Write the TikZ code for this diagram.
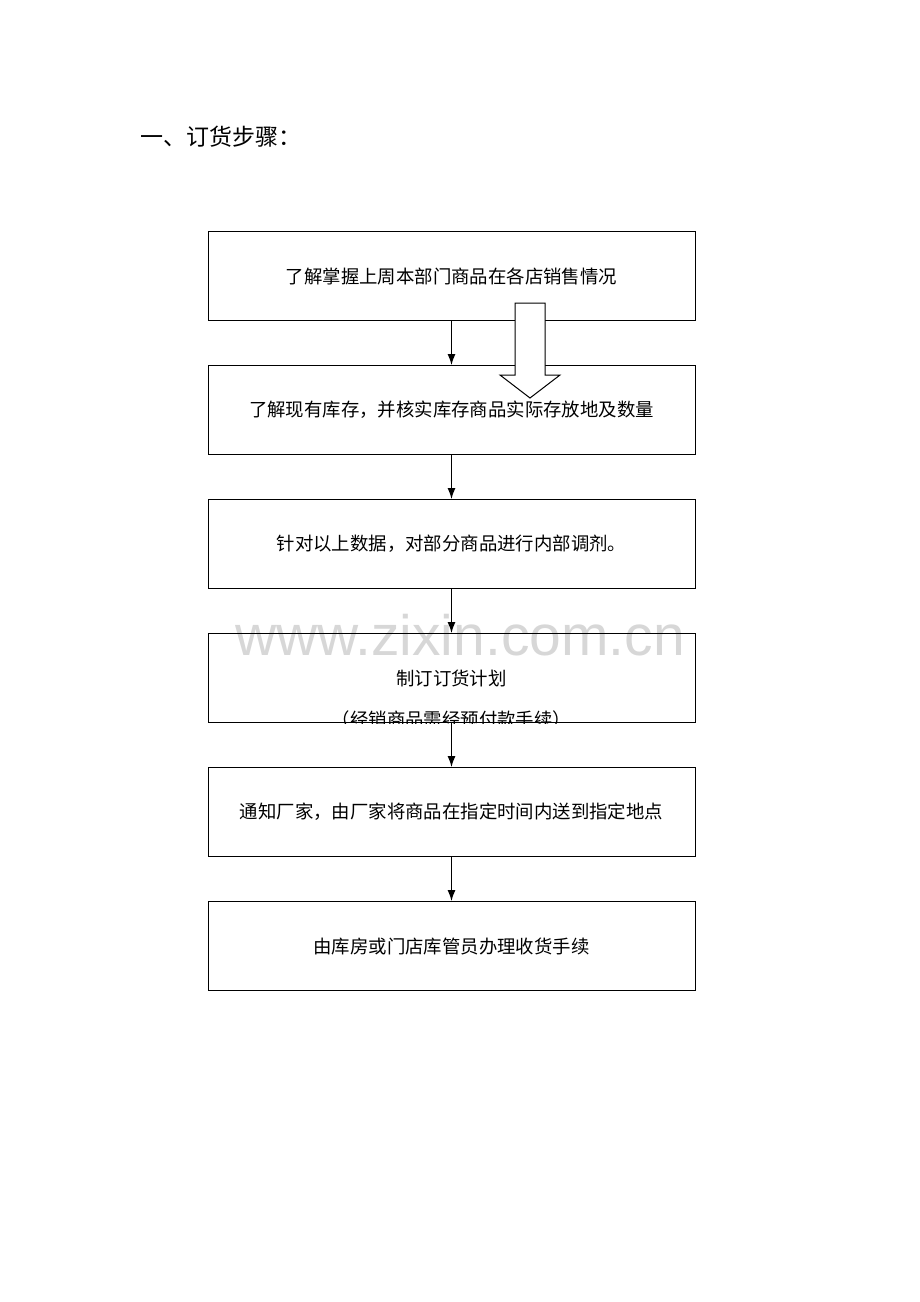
\documentclass[tikz,border=0pt]{standalone}
\usepackage{fontspec}
\newfontfamily\cjk{Noto Sans CJK SC}
\newfontfamily\wmfont{Liberation Sans}
\usetikzlibrary{arrows.meta, positioning}
\definecolor{wmgray}{RGB}{215, 215, 215}
\tikzset{
  stepbox/.style={draw, line width=0.5pt, minimum width=243.5pt, minimum height=44.5pt, inner sep=0pt, font=\cjk\fontsize{9.2}{11}\selectfont},
  flow/.style={-{Latex[length=5.5pt, width=4pt]}, line width=0.6pt},
  node distance=22pt
}

\begin{document}
\begin{tikzpicture}[x=0.5pt, y=-0.5pt]
  \useasboundingbox (0,0) rectangle (920,1302);

  % Watermark
  \node[font=\wmfont\fontsize{28.5}{30}\selectfont, text=wmgray, anchor=base] (mark) at (460,655) {www.zixin.com.cn};

  % Title
  \node[anchor=west, inner sep=0pt, font=\cjk\fontsize{11.5}{13}\selectfont] (title) at (140,137) {一、订货步骤：};

  % Steps
  \node[stepbox] (know) at (451.5,276) {了解掌握上周本部门商品在各店销售情况};
  \node[stepbox, below=of know] (stock) {了解现有库存，并核实库存商品实际存放地及数量};
  \node[stepbox, below=of stock] (adjust) {针对以上数据，对部分商品进行内部调剂。};
  \node[stepbox, below=of adjust] (plan) {制订订货计划};
  \node[stepbox, below=of plan] (notify) {通知厂家，由厂家将商品在指定时间内送到指定地点};
  \node[stepbox, below=of notify] (receive) {由库房或门店库管员办理收货手续};

  % note cut off by the box edge
  \begin{scope}
    \clip (plan.south west) rectangle (plan.north east);
    \node[font=\cjk\fontsize{9.2}{11}\selectfont] (note) at ([yshift=-20.5pt]plan.center) {（经销商品需经预付款手续）};
  \end{scope}

  % Arrows
  \draw[flow] (know) -- (stock);
  \draw[flow] (stock) -- (adjust);
  \draw[flow] (adjust) -- (plan);
  \draw[flow] (plan) -- (notify);
  \draw[flow] (notify) -- (receive);

  % hollow block arrow
  \draw[line width=0.5pt, fill=white] (515,303) -- (545,303) -- (545,375) -- (560,375) -- (530,398) -- (500,375) -- (515,375) -- cycle;
\end{tikzpicture}
\end{document}
